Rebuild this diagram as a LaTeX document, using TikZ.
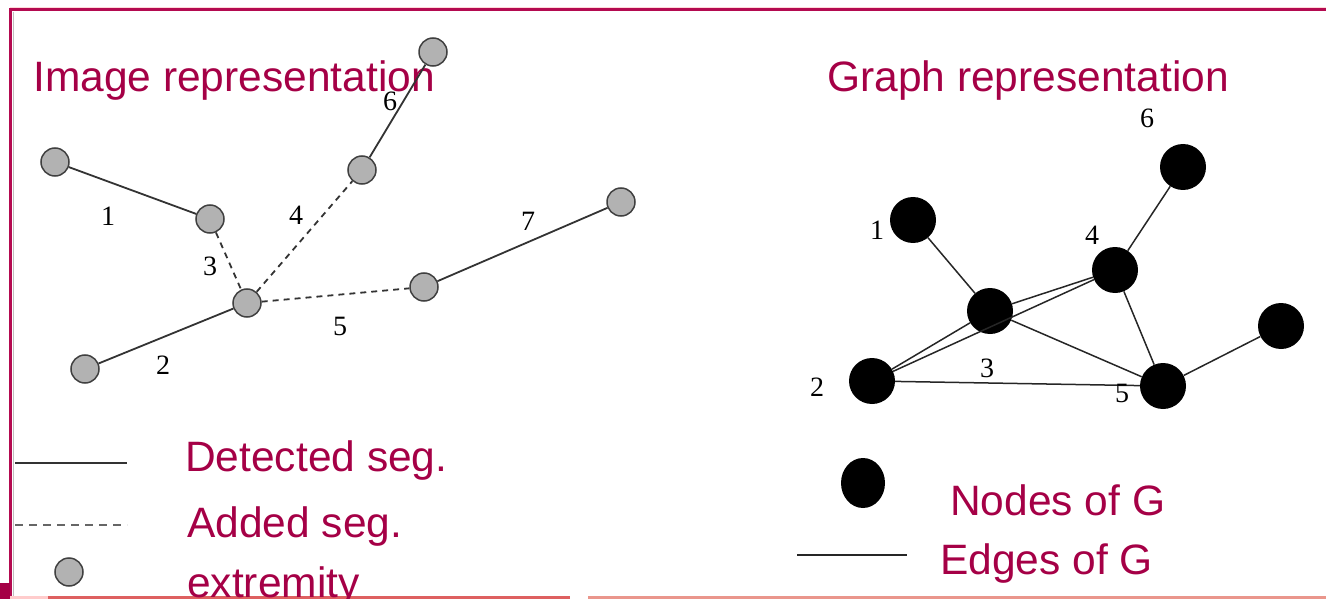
\documentclass[tikz,border=0pt]{standalone}
\usepackage{fontspec}
\setmainfont{Liberation Serif}
\newfontfamily\capfont{Liberation Sans}
\usetikzlibrary{shapes.geometric}
\definecolor{crimson}{RGB}{165,0,70}
\definecolor{framered}{RGB}{180,10,80}
\definecolor{coral}{RGB}{222,96,96}
\definecolor{palecoral}{RGB}{234,150,140}
\tikzset{
  ext/.style={circle, draw=black!75, fill=black!30, line width=1.5pt, minimum size=28pt, inner sep=0pt},
  gnode/.style={circle, fill=black, minimum size=46pt, inner sep=0pt},
  seg/.style={draw=black!80, line width=1.8pt},
  addseg/.style={seg, dash pattern=on 6pt off 5pt},
  gedge/.style={draw=black!85, line width=1.5pt},
  num/.style={font=\fontsize{28}{28}\selectfont, inner sep=0pt},
  caption/.style={font=\capfont\fontsize{42.5}{48}\selectfont, text=crimson, anchor=base west, inner sep=0pt}
}
\begin{document}
\begin{tikzpicture}[x=1pt,y=-1pt]
\useasboundingbox (0,0) rectangle (1326,599);

% frame
\draw[pink!60, line width=1pt] (10,7.5) -- (1326,7.5);
\draw[framered, line width=3pt] (10,10) -- (1326,10);
\draw[framered, line width=3pt] (10,8.5) -- (10,597);
\draw[black!25, line width=1pt] (13.5,12) -- (13.5,597);
\fill[crimson] (0,583) rectangle (10,599);
\draw[red!20, line width=3pt] (10,597.5) -- (48,597.5);
\draw[coral, line width=3pt] (48,597.5) -- (570,597.5);
\draw[palecoral, line width=3pt] (588,597.5) -- (1326,597.5);

% titles
\node[caption] (ttl) at (33,92) {Image representation};
\node[caption] (ttr) at (827,92) {Graph representation};

% image representation: segment extremities
\node[ext] (A) at (55,162) {};
\node[ext] (B) at (210,219) {};
\node[ext] (C) at (247,303) {};
\node[ext] (D) at (85,369) {};
\node[ext] (E) at (362,170) {};
\node[ext] (F) at (433,52) {};
\node[ext] (G) at (424,287) {};
\node[ext] (H) at (621,202) {};

\draw[seg] (A) -- (B);
\draw[seg] (C) -- (D);
\draw[seg] (E) -- (F);
\draw[seg] (G) -- (H);
\draw[addseg] (B) -- (C);
\draw[addseg] (C) -- (E);
\draw[addseg] (C) -- (G);

\node[num] (l1) at (108,216) {1};
\node[num] (l2) at (163,365) {2};
\node[num] (l3) at (210,266) {3};
\node[num] (l4) at (296,215) {4};
\node[num] (l5) at (340,326) {5};
\node[num] (l6) at (390,101) {6};
\node[num] (l7) at (528,221) {7};

% graph representation
\node[gnode] (n1) at (913,220) {};
\node[gnode] (n2) at (872,381) {};
\node[gnode] (n3) at (990,311) {};
\node[gnode] (n4) at (1115,270) {};
\node[gnode] (n5) at (1163,386) {};
\node[gnode] (n6) at (1183,167) {};
\node[gnode] (n7) at (1281,326) {};

\draw[gedge] (n1) -- (n3);
\draw[gedge] (n3) -- (n4);
\draw[gedge] (n3) -- (n2);
\draw[gedge] (n3) -- (n5);
\draw[gedge] (n2) -- (n4);
\draw[gedge] (n2) -- (n5);
\draw[gedge] (n4) -- (n6);
\draw[gedge] (n4) -- (n5);
\draw[gedge] (n5) -- (n7);

\node[num] (g1) at (877,230) {1};
\node[num] (g2) at (817,387) {2};
\node[num] (g3) at (987,368) {3};
\node[num] (g4) at (1092,235) {4};
\node[num] (g5) at (1122,393) {5};
\node[num] (g6) at (1147,118) {6};
\node[num] (g7) at (1333,338) {7};

% legends
\coordinate (ds) at (15,463);
\coordinate (de) at (127,463);
\draw[seg, line width=1.5pt] (ds) -- (de);
\coordinate (as) at (15,525);
\coordinate (ae) at (127,525);
\draw[seg, draw=black!60, line width=1.5pt, dash pattern=on 8pt off 6pt] (as) -- (ae);
\node[ext] (lx) at (69,572) {};
\node[caption] (t1) at (185,471) {Detected seg.};
\node[caption] (t2) at (187,537) {Added seg.};
\node[caption] (t3) at (187,597) {extremity};

\node[ellipse, fill=black, minimum width=44pt, minimum height=50pt, inner sep=0pt] (ln) at (863,483) {};
\coordinate (es) at (797,555);
\coordinate (ee) at (907,555);
\draw[gedge] (es) -- (ee);
\node[caption] (t4) at (950,515) {Nodes of G};
\node[caption] (t5) at (940,574) {Edges of G};
\end{tikzpicture}
\end{document}
